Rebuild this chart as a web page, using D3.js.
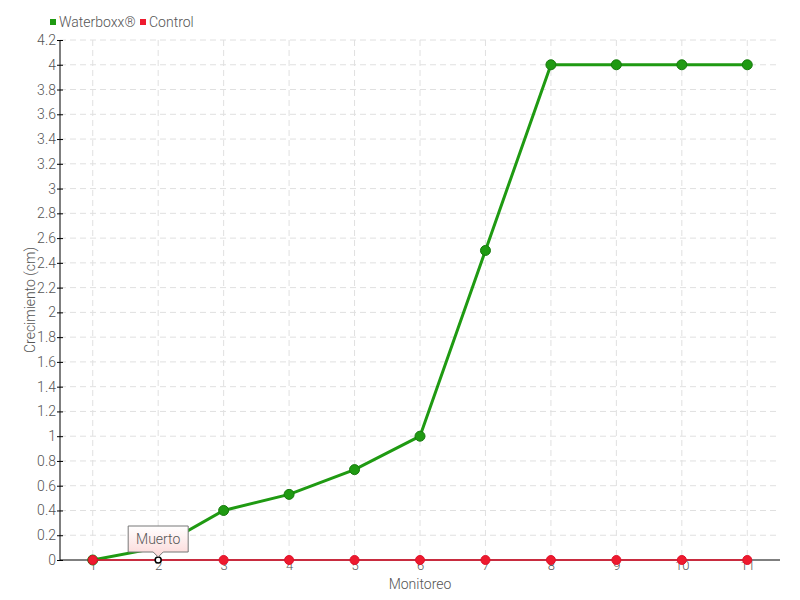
<!DOCTYPE html>
<html><head><meta charset="utf-8">
<script src="https://cdn.jsdelivr.net/npm/d3@7"></script>
<style>
body{margin:0;background:#fff;}
text{font-family:Roboto,"DejaVu Sans Condensed",sans-serif;font-weight:300;fill:#555;}
</style></head><body>
<svg id="c" width="800" height="600"></svg>
<script>
const categories = [1,2,3,4,5,6,7,8,9,10,11];
const waterboxx = [0,0.1,0.4,0.53,0.73,1.0,2.5,4,4,4,4];
const control = [0,0,0,0,0,0,0,0,0,0,0];
const yTicks = [0,0.2,0.4,0.6,0.8,1,1.2,1.4,1.6,1.8,2,2.2,2.4,2.6,2.8,3,3.2,3.4,3.6,3.8,4,4.2];
const seriesNames = ["Waterboxx®","Control"];
const tooltipText = "Muerto";

const svg = d3.select("#c");
const x = d3.scaleLinear().domain([0.5,11.5]).range([60,780]);
const y = d3.scaleLinear().domain([0,4.2]).range([560,40]);

// grid
const g = svg.append("g");
g.selectAll(".hg").data(yTicks.slice(1)).join("line")
 .attr("x1",60).attr("x2",780).attr("y1",d=>y(d)).attr("y2",d=>y(d))
 .attr("stroke","#e0e0e0").attr("stroke-dasharray","6,4");
g.selectAll(".vg").data(categories).join("line")
 .attr("x1",d=>x(d)).attr("x2",d=>x(d)).attr("y1",40).attr("y2",560)
 .attr("stroke","#e0e0e0").attr("stroke-dasharray","6,4");

// axes
const yAxis = d3.axisLeft(y).tickValues(yTicks).tickSize(3).tickFormat(d=>d3.format("~g")(d));
const ya = svg.append("g").attr("transform","translate(60,0)").call(yAxis);
ya.select(".domain").attr("stroke","#000").attr("d","M0,40V560");
ya.selectAll(".tick line").attr("x1",-3).attr("x2",3).attr("stroke","#000");
ya.selectAll(".tick text").attr("x",-4).style("font-size","14px").attr("fill","#555");

const xAxis = d3.axisBottom(x).tickValues(categories).tickSize(0).tickFormat(d3.format("d"));
const xa = svg.append("g").attr("transform","translate(0,560)").call(xAxis);
xa.select(".domain").attr("stroke","#000").attr("d","M60,0H780");
xa.selectAll(".tick text").attr("y",1).style("font-size","13px").attr("fill","#555");

svg.append("text").attr("transform","translate(35,300) rotate(-90)").attr("text-anchor","middle")
 .style("font-size","14px").text("Crecimiento (cm)");
svg.append("text").attr("x",420).attr("y",589).attr("text-anchor","middle")
 .style("font-size","14px").text("Monitoreo");

const line = d3.line().x((d,i)=>x(categories[i])).y(d=>y(d));
// waterboxx
svg.append("path").datum(waterboxx).attr("d",line).attr("fill","none")
 .attr("stroke","#1f9a12").attr("stroke-width",3);
svg.selectAll(".wp").data(waterboxx).join("circle")
 .attr("cx",(d,i)=>x(categories[i])).attr("cy",d=>y(d)).attr("r",5)
 .attr("fill","#1f9a12").attr("stroke","#177a0e").attr("stroke-width",1);
// control
svg.append("path").datum(control).attr("d",line).attr("fill","none")
 .attr("stroke","#e0102a").attr("stroke-width",1.5);
svg.selectAll(".cp").data(control).join("circle")
 .attr("cx",(d,i)=>x(categories[i])).attr("cy",d=>y(d)).attr("r",4.5)
 .attr("fill",(d,i)=>i===1?"#fff":"#ee1a2e").attr("stroke",(d,i)=>i===1?"#000":"#e0102a")
 .attr("stroke-width",(d,i)=>i===1?1.5:1)
 .filter((d,i)=>i===1).attr("r",3);

// legend
const lg = svg.append("g");
lg.append("rect").attr("x",50).attr("y",19).attr("width",6).attr("height",6).attr("fill","#1f9a12");
lg.append("text").attr("x",59).attr("y",27).style("font-size","14px").text(seriesNames[0]);
lg.append("rect").attr("x",140).attr("y",19).attr("width",6).attr("height",6).attr("fill","#ee1a2e");
lg.append("text").attr("x",149).attr("y",27).style("font-size","14px").text(seriesNames[1]);

// tooltip
const defs = svg.append("defs");
const grad = defs.append("linearGradient").attr("id","tg").attr("x1",0).attr("y1",0).attr("x2",0).attr("y2",1);
grad.append("stop").attr("offset","0").attr("stop-color","#fff");
grad.append("stop").attr("offset","1").attr("stop-color","#fcd8d8");
const tx = x(categories[1]), ty = y(control[1]);
const bx = tx-30, by = ty-34, bw=60, bh=26;
svg.append("path").attr("d",`M${bx},${by}H${bx+bw}V${by+bh}H${tx+5}L${tx},${by+bh+5}L${tx-5},${by+bh}H${bx}Z`)
 .attr("fill","url(#tg)").attr("stroke","#777").attr("stroke-width",1);
svg.append("text").attr("x",tx).attr("y",by+18).attr("text-anchor","middle")
 .style("font-size","14px").text(tooltipText);
</script></body></html>
